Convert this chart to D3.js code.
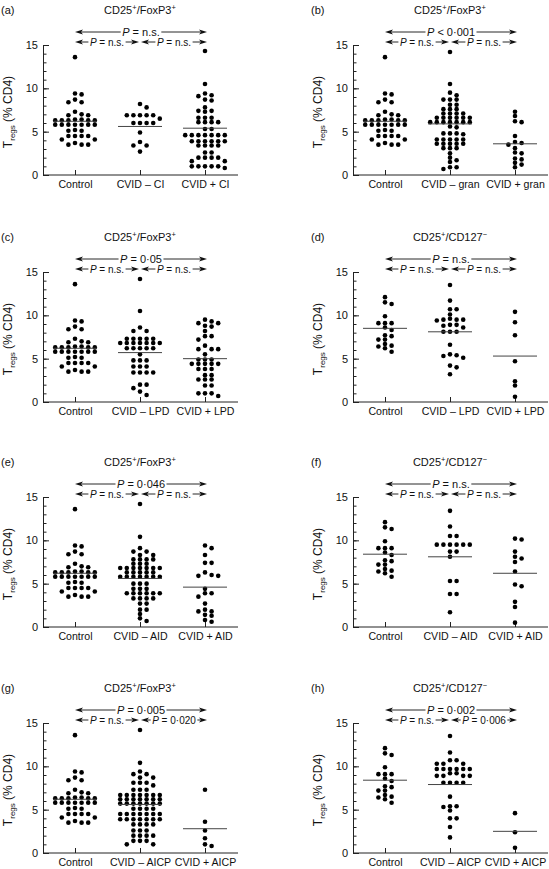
<!DOCTYPE html>
<html><head><meta charset="utf-8">
<script src="https://cdn.jsdelivr.net/npm/d3@7"></script>
<style>
body{margin:0;background:#fff}
svg{display:block}
text{font-family:"Liberation Sans",Arial,Helvetica,sans-serif;fill:#111}
</style>
</head><body>
<svg id="c" width="549" height="869"></svg>
<script>
// ---------- DATA ----------
const panelLabels = ["(a)","(b)","(c)","(d)","(e)","(f)","(g)","(h)"];
const panelMarkers = ["FoxP3","FoxP3","FoxP3","CD127","FoxP3","CD127","FoxP3","CD127"];
const panelSubsets = ["CI","gran","LPD","LPD","AID","AID","AICP","AICP"];
const pOverall = ["= n.s.","< 0·001","= 0·05","= n.s.","= 0·046","= n.s.","= 0·005","= 0·002"];
const pLeft    = ["= n.s.","= n.s.","= n.s.","= n.s.","= n.s.","= n.s.","= n.s.","= n.s."];
const pRight   = ["= n.s.","= n.s.","= n.s.","= n.s.","= n.s.","= n.s.","= 0·020","= 0·006"];
const yTicks = [0,5,10,15];

const controlFoxP3 = [13.6, 9.4, 9.3, 8.7, 8.4, 8.4, 7.3, 7.0, 6.9, 6.9, 6.4, 6.4, 6.3, 6.3, 6.3, 6.3, 6.3,
  5.8, 5.8, 5.8, 5.8, 5.8, 5.8, 5.8, 5.2, 5.1, 5.1, 4.5, 4.5, 4.5, 4.5, 4.1, 4.1, 3.7, 3.5, 3.5, 3.5];
const controlCD127 = [12.1, 11.5, 11.3, 9.9, 9.1, 9.1, 9.1, 8.6, 8.3, 7.7, 7.6, 7.2, 7.2, 6.7, 6.5, 6.4, 6.2, 5.8];

const cvidMinusCI = [8.2, 7.8, 6.9, 6.9, 6.9, 6.9, 6.9, 6.5, 6.0, 6.0, 6.0, 6.0, 4.9, 3.8, 3.4, 3.4, 2.7];
const cvidPlusCI = [14.3, 10.5, 9.4, 9.2, 9.1, 8.7, 8.6, 7.8, 7.4, 7.4, 7.3, 6.6, 6.6, 6.6, 6.1, 6.1, 6.1, 6.1,
  5.3, 5.3, 4.6, 4.6, 4.6, 4.6, 4.6, 4.6, 4.6, 3.9, 3.9, 3.9, 3.9, 3.9, 3.9, 3.4, 3.4, 3.4, 3.4,
  2.6, 2.6, 2.0, 2.0, 2.0, 2.0, 1.6, 1.6, 1.0, 1.0, 1.0, 1.0, 1.0, 0.8];

const cvidMinusGran = [14.2, 10.5, 9.5, 9.2, 8.7, 8.7, 8.7, 8.1, 8.1, 7.6, 7.6, 7.6, 7.1, 7.1, 7.1, 7.1,
  6.6, 6.6, 6.6, 6.6, 6.6, 6.6, 6.1, 6.1, 6.1, 6.1, 6.1, 6.1, 6.1, 5.6, 5.5, 4.8, 4.8, 4.8, 4.7,
  4.1, 4.1, 4.1, 4.1, 4.1, 3.6, 3.6, 3.6, 3.6, 3.6, 3.1, 3.1, 3.1, 2.5, 2.0, 1.7, 1.5, 0.9, 0.9, 0.7];
const cvidPlusGran = [7.3, 6.8, 6.2, 6.1, 4.5, 3.8, 3.7, 3.5, 3.1, 2.6, 2.5, 1.9, 1.8, 1.4, 1.2, 0.9];

const cvidMinusLPD_F = [14.2, 10.5, 8.6, 8.2, 8.2, 7.3, 7.3, 7.3, 7.3, 7.3, 6.8, 6.8, 6.8, 6.8, 6.8, 6.8, 6.8,
  6.2, 6.2, 6.2, 6.2, 6.2, 5.5, 4.8, 4.8, 4.8, 4.1, 4.1, 4.1, 3.4, 3.4, 3.4, 3.4, 2.0, 2.0, 1.6, 1.2, 0.8];
const cvidPlusLPD_F = [9.5, 9.3, 9.1, 9.1, 8.8, 8.7, 8.2, 7.6, 7.6, 7.2, 6.5, 6.1, 6.1, 6.1, 5.5, 4.9, 4.9, 4.9,
  4.4, 4.4, 4.4, 4.4, 4.4, 3.8, 3.8, 3.8, 3.1, 3.1, 2.6, 2.6, 2.6, 1.9, 1.9, 1.0, 1.0, 1.0, 0.7];

const cvidMinusLPD_C = [13.5, 11.7, 10.7, 10.7, 10.1, 9.6, 9.5, 9.5, 9.5, 9.4, 8.9, 8.9, 8.8, 8.6,
  8.1, 8.1, 8.1, 6.6, 5.5, 5.4, 5.3, 5.1, 4.2, 4.0, 3.2];
const cvidPlusLPD_C = [10.4, 9.2, 7.7, 4.7, 2.4, 1.9, 0.6];

const cvidMinusAID_F = [14.2, 10.4, 9.1, 8.7, 8.7, 8.3, 8.3, 7.8, 7.8, 7.8, 7.8, 7.3, 7.3, 7.3,
  6.8, 6.8, 6.8, 6.8, 6.8, 6.8, 6.8, 6.3, 6.3, 6.3, 6.3, 6.3, 5.8, 5.8, 5.8, 5.8, 5.8, 5.8, 5.8,
  5.0, 5.0, 5.0, 4.4, 4.4, 4.4, 3.9, 3.9, 3.9, 3.9, 3.9, 3.9, 3.3, 3.3, 3.3, 3.3, 2.7, 2.7, 2.0, 2.0, 1.5, 1.0, 0.7];
const cvidPlusAID_F = [9.4, 9.1, 8.3, 7.4, 7.4, 6.3, 6.0, 5.9, 5.9, 4.4, 3.9, 3.9, 3.5, 2.7, 2.0, 1.8, 1.8, 1.4, 1.3, 0.8, 0.6];

const cvidMinusAID_C = [13.4, 11.6, 10.5, 10.5, 9.5, 9.5, 9.5, 9.5, 9.5, 9.5, 8.7, 8.7, 8.1, 5.3, 5.3, 3.8, 3.8, 1.7];
const cvidPlusAID_C = [10.2, 10.1, 8.7, 8.1, 7.9, 7.5, 6.4, 4.9, 4.7, 2.9, 2.3, 0.5];

const cvidMinusAICP_F = [14.2, 10.4, 9.4, 9.1, 9.1, 8.7, 8.7, 8.1, 8.1, 8.1, 7.8, 7.3, 7.3, 7.3,
  6.7, 6.7, 6.7, 6.7, 6.7, 6.7, 6.7, 6.2, 6.2, 6.2, 6.2, 6.2, 6.2, 6.2, 5.7, 5.7, 5.7, 5.7, 5.7, 5.7, 5.7,
  5.1, 5.1, 5.1, 5.1, 4.5, 4.5, 4.5, 4.5, 4.5, 4.5, 4.5, 3.9, 3.9, 3.9, 3.9, 3.9, 3.9, 3.9,
  3.3, 3.3, 3.3, 3.3, 2.6, 2.6, 2.6, 2.0, 2.0, 2.0, 2.0, 1.4, 1.4, 1.4, 1.0, 1.0];
const cvidPlusAICP_F = [7.3, 3.6, 2.6, 1.7, 1.0, 0.8];

const cvidMinusAICP_C = [13.5, 11.6, 10.7, 10.7, 10.3, 10.3, 10.3, 9.7, 9.7, 9.7, 9.7, 9.7, 9.7, 9.2, 9.2,
  8.9, 8.9, 8.9, 8.9, 8.1, 8.1, 8.1, 8.1, 6.5, 5.4, 5.4, 5.3, 4.9, 4.0, 4.0, 3.0, 1.8];
const cvidPlusAICP_C = [4.6, 2.4, 0.6];

const lineValues = [[6.2,5.6,5.4],[6.2,5.9,3.6],[6.2,5.7,5.0],[8.5,8.1,5.3],
                    [6.2,5.6,4.6],[8.4,8.1,6.2],[6.2,5.6,2.8],[8.4,7.9,2.5]];

const panelGroups = [
  [controlFoxP3, cvidMinusCI, cvidPlusCI],
  [controlFoxP3, cvidMinusGran, cvidPlusGran],
  [controlFoxP3, cvidMinusLPD_F, cvidPlusLPD_F],
  [controlCD127, cvidMinusLPD_C, cvidPlusLPD_C],
  [controlFoxP3, cvidMinusAID_F, cvidPlusAID_F],
  [controlCD127, cvidMinusAID_C, cvidPlusAID_C],
  [controlFoxP3, cvidMinusAICP_F, cvidPlusAICP_F],
  [controlCD127, cvidMinusAICP_C, cvidPlusAICP_C]
];

// ---------- LAYOUT ----------
const svg = d3.select("#c");
const colX = [43, 353];
const rowTop = [45, 272, 497, 723];
const plotH = 130;
const FS = 11;
const dotR = 2.3, stepX = 6.6, minDy = 4.2;

function swarm(vals, cx, y) {
  const sorted = vals.slice().sort((a,b)=>b-a);
  const placed = [];
  sorted.forEach(v => {
    const py = y(v);
    for (let i = 0; i < 40; i++) {
      const k = i === 0 ? 0 : (i % 2 ? (i+1)/2 : -i/2);
      const hit = placed.some(p => p.k === k && Math.abs(p.py - py) < minDy);
      if (!hit) { placed.push({k, py, v}); break; }
    }
  });
  return placed.map(p => ({x: cx + p.k*stepX, y: p.py}));
}

function arrowHead(g, tipX, yy, dir) {
  const L = 8, H = 2.6, N = 6;
  g.append("path")
    .attr("d", `M${tipX},${yy} L${tipX+dir*L},${yy-H} L${tipX+dir*N},${yy} L${tipX+dir*L},${yy+H} Z`)
    .attr("fill","#111");
}

function pArrow(g, x1, x2, yy, label, fs) {
  const cx = (x1+x2)/2;
  const t = g.append("text").attr("x",cx).attr("y",yy).attr("dy","0.36em")
    .attr("text-anchor","middle").attr("font-size",fs);
  t.append("tspan").attr("font-style","italic").text("P");
  t.append("tspan").text(" " + label);
  const w = t.node().getComputedTextLength();
  const tl = cx - w/2 - 1.5, tr = cx + w/2 + 1.5;
  g.append("line").attr("x1",x1+6).attr("x2",tl).attr("y1",yy).attr("y2",yy).attr("stroke","#111").attr("stroke-width",0.9);
  g.append("line").attr("x1",tr).attr("x2",x2-6).attr("y1",yy).attr("y2",yy).attr("stroke","#111").attr("stroke-width",0.9);
  arrowHead(g, x1, yy, 1);
  arrowHead(g, x2, yy, -1);
}

panelLabels.forEach((lab, i) => {
  const ax = colX[i % 2];
  const y15 = rowTop[Math.floor(i / 2)];
  const y0 = y15 + plotH;
  const cats = ["Control", "CVID \u2013 " + panelSubsets[i], "CVID + " + panelSubsets[i]];
  const y = d3.scaleLinear().domain([0, 15]).range([y0, y15]);
  const x = d3.scalePoint().domain(cats).range([ax + 32, ax + 162]);
  const g = svg.append("g");

  // panel label and title
  g.append("text").attr("x", ax - 42).attr("y", y15 - 31).attr("font-size", FS).text(lab);
  const tt = g.append("text").attr("x", ax + 97).attr("y", y15 - 31).attr("text-anchor","middle").attr("font-size", FS);
  tt.append("tspan").text("CD25");
  tt.append("tspan").attr("font-size", 7.5).attr("dy", -4).text("+");
  if (panelMarkers[i] === "FoxP3") {
    tt.append("tspan").attr("dy", 4).text("/FoxP3");
    tt.append("tspan").attr("font-size", 7.5).attr("dy", -4).text("+");
  } else {
    tt.append("tspan").attr("dy", 4).text("/CD127");
    tt.append("tspan").attr("font-size", 7.5).attr("dy", -4).text("\u2212");
  }

  // y axis: minor and major ticks pointing inward
  const minor = g.append("g").attr("transform", `translate(${ax},0)`)
    .call(d3.axisLeft(y).tickValues(d3.range(0, 16)).tickSizeInner(-3.5).tickSizeOuter(0).tickFormat(""));
  minor.select(".domain").remove();
  const major = g.append("g").attr("transform", `translate(${ax},0)`)
    .call(d3.axisLeft(y).tickValues(yTicks).tickSizeInner(-6).tickSizeOuter(0).tickPadding(5));
  major.selectAll("text").attr("font-size", FS).attr("font-family", null).attr("fill","#111");
  g.selectAll(".tick line").attr("stroke","#222");
  major.select(".domain").attr("stroke","#222");

  // x axis
  g.append("line").attr("x1", ax).attr("x2", ax + 195).attr("y1", y0).attr("y2", y0).attr("stroke","#222");
  const xa = g.append("g").attr("transform", `translate(0,${y0})`)
    .call(d3.axisBottom(x).tickSizeInner(-5).tickSizeOuter(0).tickPadding(5));
  xa.select(".domain").remove();
  xa.selectAll("line").attr("stroke","#222");
  xa.selectAll("text").attr("font-size", 10.6).attr("font-family", null).attr("fill","#111");

  // y label
  const yl = g.append("text").attr("transform", `translate(${ax - 31},${(y0 + y15) / 2 + 2}) rotate(-90)`)
    .attr("text-anchor","middle").attr("font-size", 12);
  yl.append("tspan").text("T");
  yl.append("tspan").attr("font-size", 8).attr("dy", 3).text("regs");
  yl.append("tspan").attr("dy", -3).text(" (% CD4)");

  // P value arrows
  const c0 = x(cats[0]), c1 = x(cats[1]), c2 = x(cats[2]);
  pArrow(g, c0, c2 + 2, y15 - 13, pOverall[i], FS);
  pArrow(g, c0, c1 - 1, y15 - 3, pLeft[i], 10);
  pArrow(g, c1 + 1, c2 + 2, y15 - 3, pRight[i], 10);

  // dots and lines
  panelGroups[i].forEach((vals, j) => {
    const cx = x(cats[j]);
    g.append("g").selectAll("circle").data(swarm(vals, cx, y)).join("circle")
      .attr("cx", d => d.x).attr("cy", d => d.y).attr("r", dotR).attr("fill", "#000");
    g.append("line").attr("x1", cx - 22).attr("x2", cx + 22)
      .attr("y1", y(lineValues[i][j])).attr("y2", y(lineValues[i][j]))
      .attr("stroke", "#444").attr("stroke-width", 1);
  });
});
</script>
</body></html>
